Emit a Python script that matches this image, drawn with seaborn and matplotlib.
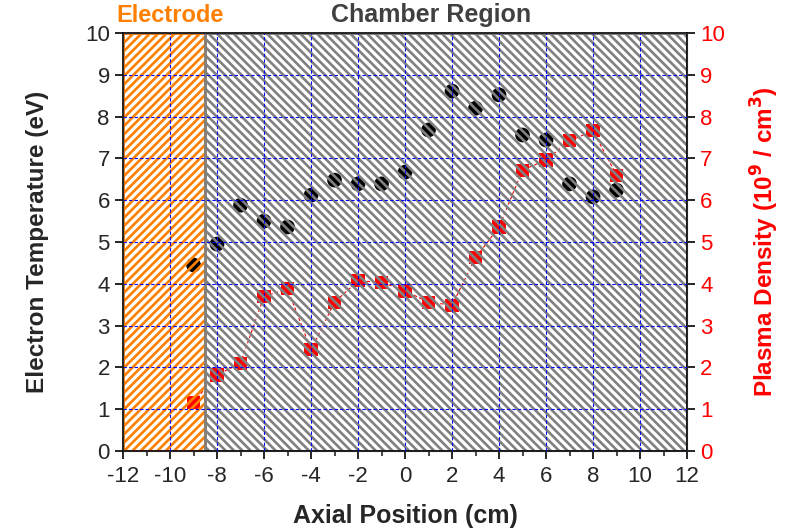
import matplotlib
matplotlib.use("Agg")
import matplotlib.pyplot as plt
from matplotlib.patches import Rectangle
from matplotlib.ticker import MultipleLocator
import pandas as pd
import seaborn as sns

# axial positions (cm)
position = [-9, -8, -7, -6, -5, -4, -3, -2, -1, 0, 1, 2, 3, 4, 5, 6, 7, 8, 9]
# electron temperature (eV)
temperature = [4.45, 4.95, 5.88, 5.50, 5.36, 6.12, 6.48, 6.39, 6.39, 6.67,
               7.68, 8.61, 8.20, 8.52, 7.56, 7.44, 6.39, 6.08, 6.24]
# plasma density (1e9 / cm^3)
density = [1.17, 1.82, 2.10, 3.70, 3.88, 2.42, 3.56, 4.07, 4.04, 3.83,
           3.56, 3.49, 4.62, 5.36, 6.72, 6.96, 7.42, 7.66, 6.60]

electrode_span = (-12, -8.5)
chamber_span = (-8.5, 12)

df = pd.DataFrame({"x": position, "te": temperature, "ne": density})

sns.set_style("ticks")
plt.rcParams["font.family"] = ["Liberation Sans", "DejaVu Sans"]
plt.rcParams["hatch.linewidth"] = 1.9
plt.rcParams["axes.unicode_minus"] = False

fig = plt.figure(figsize=(7.87, 5.28), dpi=100)
ax = fig.add_axes([0.1563, 0.1458, 0.7167, 0.7917])

sns.lineplot(data=df, x="x", y="ne", ax=ax, color="red", linewidth=0.8,
             linestyle=(0, (3, 2)), zorder=0.9, legend=False)
sns.scatterplot(data=df, x="x", y="ne", ax=ax, marker="s", s=90, color="red",
                edgecolor="none", zorder=1, legend=False)
sns.scatterplot(data=df, x="x", y="te", ax=ax, marker="o", s=112, color="black",
                edgecolor="none", zorder=1, legend=False)

ax.add_patch(Rectangle((electrode_span[0], 0), electrode_span[1] - electrode_span[0], 10,
                       facecolor="none", edgecolor="#FF8000", hatch="////",
                       linewidth=2, zorder=2))
ax.add_patch(Rectangle((chamber_span[0], 0), chamber_span[1] - chamber_span[0], 10,
                       facecolor="none", edgecolor="#808080", hatch="\\\\\\\\",
                       linewidth=2, zorder=2))

ax.set_xlim(-12, 12)
ax.set_ylim(0, 10)
ax.xaxis.set_major_locator(MultipleLocator(2))
ax.xaxis.set_minor_locator(MultipleLocator(1))
ax.yaxis.set_major_locator(MultipleLocator(1))
ax.set_axisbelow(False)
ax.grid(True, which="major", color="blue", linestyle=(0, (3, 2)), linewidth=0.8)

ax.tick_params(axis="both", which="major", direction="out", length=6, width=1.2,
               labelsize=16, color="black")
ax.tick_params(axis="x", which="major", pad=5)
ax.tick_params(axis="x", which="minor", direction="out", length=3.5, width=1.2)
ax.set_xlabel("Axial Position (cm)", fontsize=18, fontweight="bold", labelpad=12)
ax.set_ylabel("Electron Temperature (eV)", fontsize=17.5, fontweight="bold", labelpad=26)
for side in ["top", "bottom", "left", "right"]:
    ax.spines[side].set_color("black")
    ax.spines[side].set_linewidth(1.2)

ax2 = ax.twinx()
ax2.set_ylim(0, 10)
ax2.yaxis.set_major_locator(MultipleLocator(1))
ax2.tick_params(axis="y", direction="out", length=6, width=1.2, labelsize=16,
                labelcolor="red", color="black")
ax2.set_ylabel("Plasma Density (10$^\\mathbf{9}$ / cm$^\\mathbf{3}$)", fontsize=17.5,
               fontweight="bold", color="red", labelpad=17)
ax2.grid(False)

ax.text(-10.0, 10.15, "Electrode", ha="center", va="bottom", fontsize=17,
        fontweight="bold", color="#FF8000")
ax.text(1.1, 10.15, "Chamber Region", ha="center", va="bottom", fontsize=18,
        fontweight="bold", color="#404040")

fig.savefig("out.png", dpi=100)
